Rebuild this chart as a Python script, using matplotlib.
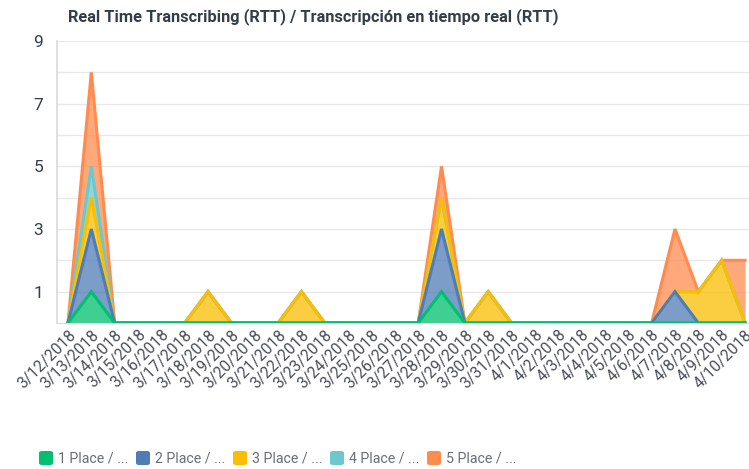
import matplotlib.pyplot as plt
import numpy as np
from matplotlib.patches import FancyBboxPatch

# dates on the x axis
dates = ['3/12/2018', '3/13/2018', '3/14/2018', '3/15/2018', '3/16/2018',
         '3/17/2018', '3/18/2018', '3/19/2018', '3/20/2018', '3/21/2018',
         '3/22/2018', '3/23/2018', '3/24/2018', '3/25/2018', '3/26/2018',
         '3/27/2018', '3/28/2018', '3/29/2018', '3/30/2018', '3/31/2018',
         '4/1/2018', '4/2/2018', '4/3/2018', '4/4/2018', '4/5/2018',
         '4/6/2018', '4/7/2018', '4/8/2018', '4/9/2018', '4/10/2018']

labels = ['1 Place / ...', '2 Place / ...', '3 Place / ...', '4 Place / ...', '5 Place / ...']

# counts per series (stacked)
place1 = [0, 1, 0, 0, 0, 0, 0, 0, 0, 0, 0, 0, 0, 0, 0, 0, 1, 0, 0, 0, 0, 0, 0, 0, 0, 0, 0, 0, 0, 0]
place2 = [0, 2, 0, 0, 0, 0, 0, 0, 0, 0, 0, 0, 0, 0, 0, 0, 2, 0, 0, 0, 0, 0, 0, 0, 0, 0, 1, 0, 0, 0]
place3 = [0, 1, 0, 0, 0, 0, 1, 0, 0, 0, 1, 0, 0, 0, 0, 0, 1, 0, 1, 0, 0, 0, 0, 0, 0, 0, 0, 1, 2, 0]
place4 = [0, 1, 0, 0, 0, 0, 0, 0, 0, 0, 0, 0, 0, 0, 0, 0, 0, 0, 0, 0, 0, 0, 0, 0, 0, 0, 0, 0, 0, 0]
place5 = [0, 3, 0, 0, 0, 0, 0, 0, 0, 0, 0, 0, 0, 0, 0, 0, 1, 0, 0, 0, 0, 0, 0, 0, 0, 0, 2, 0, 0, 2]

series = [place1, place2, place3, place4, place5]
colors = ['#00BF6F', '#507CB6', '#F9BE00', '#6BC8CD', '#FF8B4F']

plt.rcParams['font.family'] = ['Roboto', 'DejaVu Sans']

W, H = 749, 469
fig = plt.figure(figsize=(W / 100, H / 100), dpi=100)
ax = fig.add_axes([57 / W, 1 - 323 / H, 692 / W, 282 / H])

x = np.arange(len(dates))
tops = np.cumsum(np.array(series, dtype=float), axis=0)
bottoms = np.vstack([np.zeros(len(dates)), tops[:-1]])

# draw last series first so series 1 ends up on top
for i in reversed(range(len(series))):
    ax.fill_between(x, bottoms[i], tops[i], color=colors[i], alpha=0.75, linewidth=0, zorder=2 + (5 - i) * 0.1)
    ax.plot(x, tops[i], color=colors[i], linewidth=2.2, solid_joinstyle='miter', zorder=3 + (5 - i) * 0.1)

ax.set_xlim(-0.47, 29.17)
ax.set_ylim(0, 9)
ax.set_yticks([1, 3, 5, 7, 9])
ax.set_yticks(range(1, 9), minor=True)
ax.grid(axis='y', which='both', color='#e8e8e8', linewidth=1)
ax.set_axisbelow(True)
ax.tick_params(axis='y', which='both', length=0, labelsize=12.5, labelcolor='#333e48', pad=10)
ax.tick_params(axis='x', length=0, labelsize=11.3, labelcolor='#4a4f57', pad=3)
ax.set_xticks(x)
ax.set_xticklabels(dates, rotation=45, ha='right', rotation_mode='anchor')

for s in ['top', 'right']:
    ax.spines[s].set_visible(False)
ax.spines['left'].set_color('#d9d9d9')
ax.spines['bottom'].set_color('#d9d9d9')
ax.spines['left'].set_linewidth(1.2)

fig.text(68 / W, 1 - 17 / H, 'Real Time Transcribing (RTT) / Transcripción en tiempo real (RTT)',
         fontsize=11.8, fontweight='bold', color='#333e48', va='center')

# legend drawn by hand so the spacing matches
leg_y = 458
for i, (c, lab) in enumerate(zip(colors, labels)):
    x0 = 39 + i * 97
    box = FancyBboxPatch((x0 / W, (H - leg_y - 7) / H), 14 / W, 14 / H,
                         boxstyle='round,pad=0,rounding_size=0.004', transform=fig.transFigure,
                         facecolor=c, edgecolor='none')
    fig.patches.append(box)
    fig.text((x0 + 19) / W, 1 - leg_y / H, lab, fontsize=10.2, color='#6a6f77', va='center')

plt.savefig('out.png', dpi=100)
